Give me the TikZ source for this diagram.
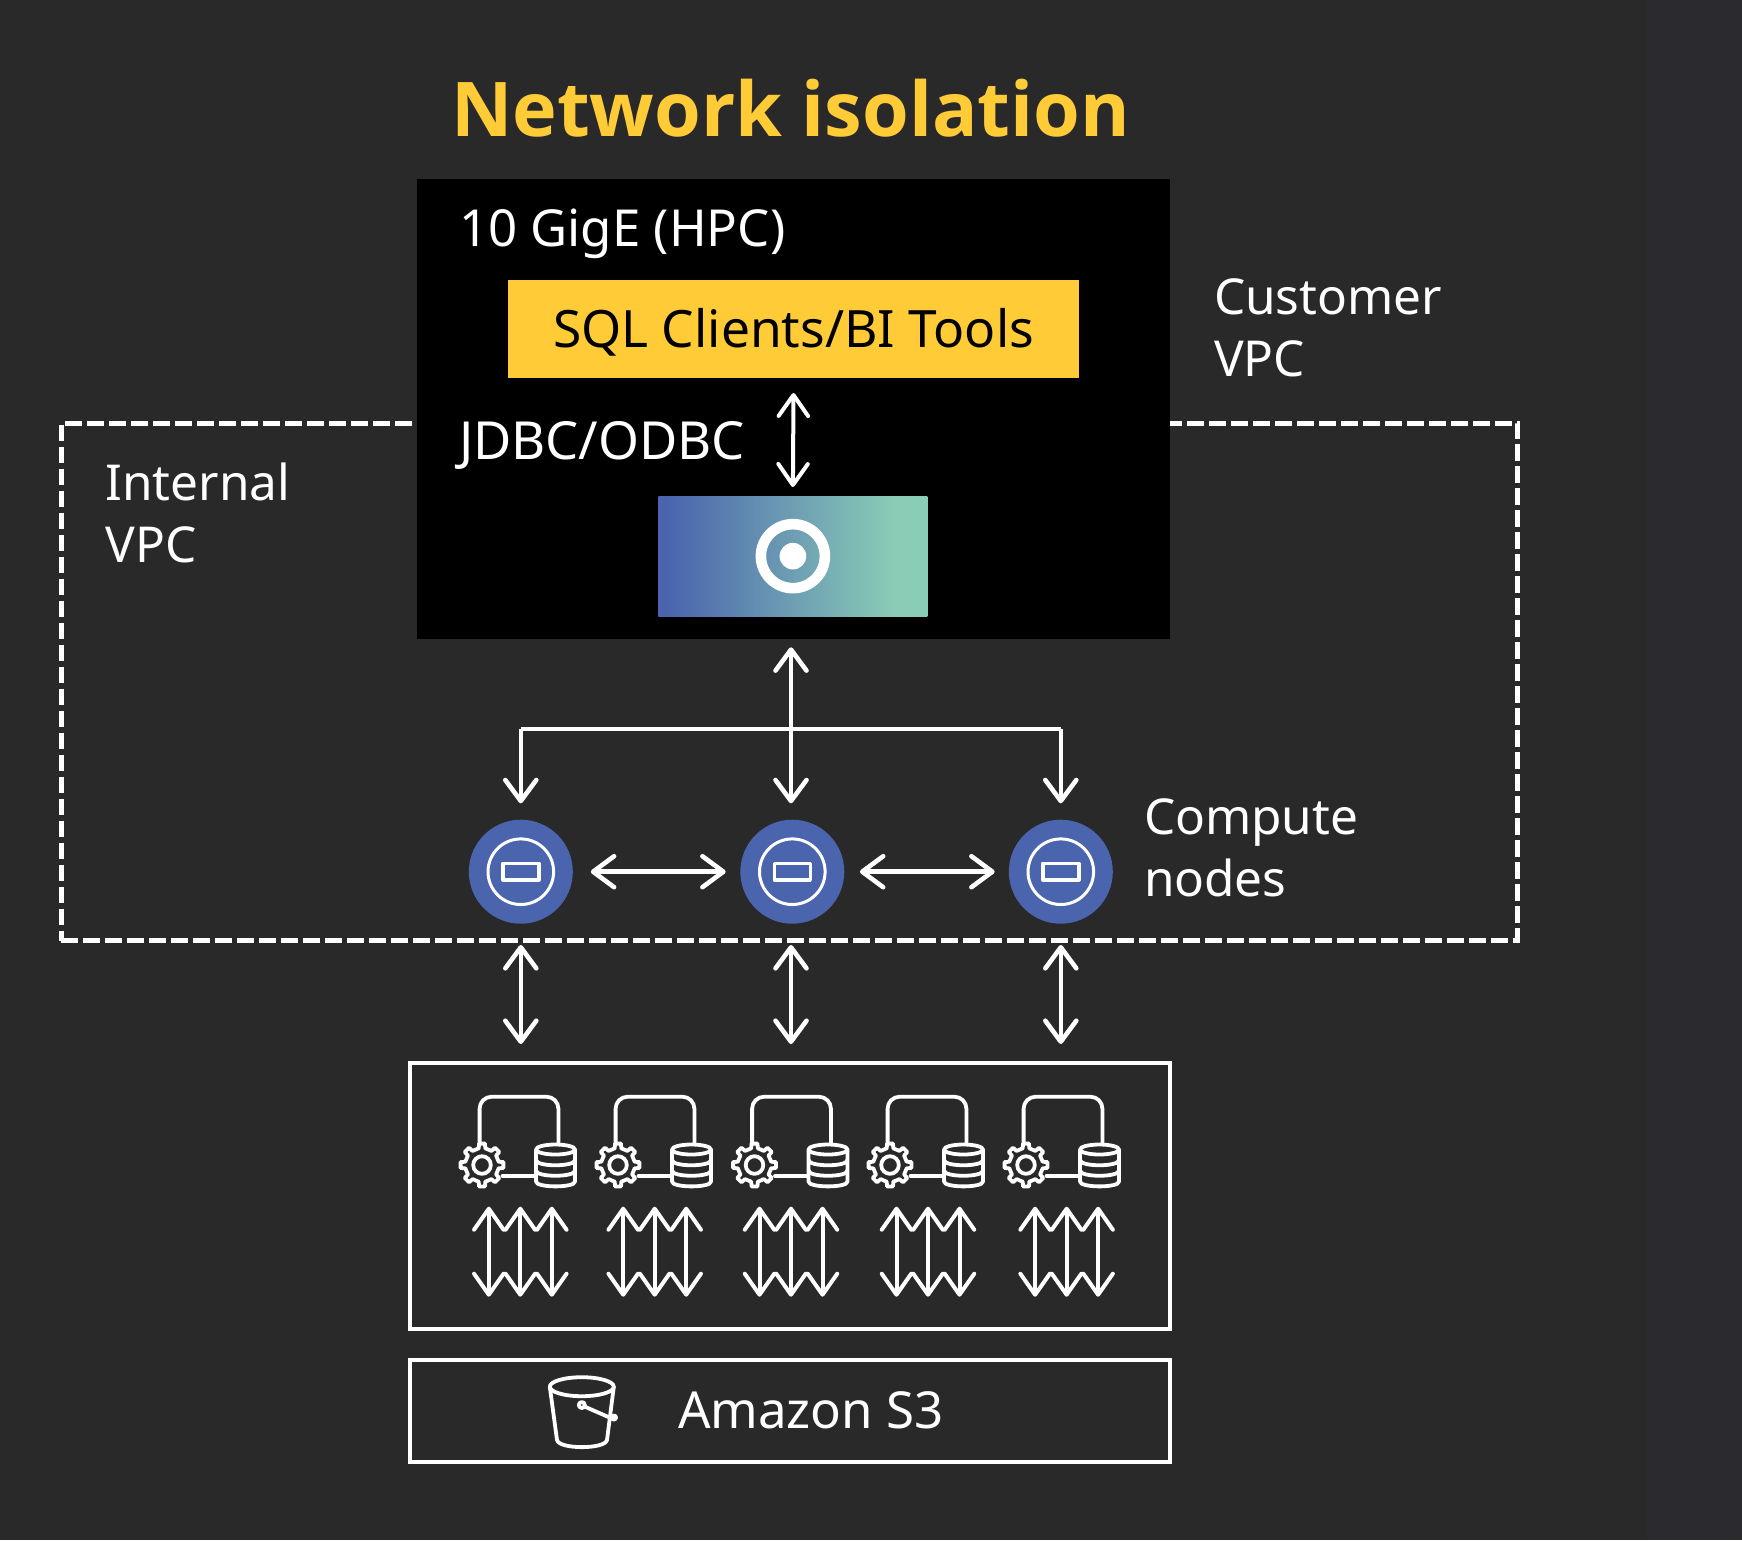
\documentclass[tikz,border=0pt]{standalone}
\usepackage{fontspec}
\setmainfont{Noto Sans}
\newfontfamily\headfont{Open Sans}
\usetikzlibrary{arrows.meta}
\definecolor{bgc}{HTML}{292929}
\definecolor{bandc}{HTML}{2B2A2E}
\definecolor{amberc}{HTML}{FFCC38}
\definecolor{bluec}{HTML}{4A64AE}
\definecolor{mintc}{HTML}{8ACDB6}
\pgfdeclarehorizontalshading{leaderfill}{100bp}{color(0bp)=(bluec);color(26.5bp)=(bluec);color(69bp)=(mintc);color(100bp)=(mintc)}
\newcommand{\fs}[1]{\fontsize{#1}{62}\selectfont}
\tikzset{
  every node/.style={inner sep=0pt,outer sep=0pt},
  lbl/.style={text=white,anchor=base west,font=\fs{49.5},align=left},
  frame/.style={draw=white,line width=4pt},
  wire/.style={draw=white,line width=4.6pt,line join=round,line cap=round},
  icon/.style={draw=white,line width=3.8pt,line join=round,line cap=round},
  barb/.tip={Straight Barb[length=21pt,width=31pt,line width=4.6pt,round]},
  finebarb/.tip={Straight Barb[length=21pt,width=29.5pt,line width=4pt,round]},
  bi/.style={wire,{barb}-{barb}},
  finebi/.style={icon,line width=4pt,{finebarb}-{finebarb}},
  compute/.style={circle,fill=bluec,minimum size=104pt,outer sep=18pt},
  gearpair/.pic={
    \draw[icon] (-11:17) \foreach \a in {0,45,...,315}{
      -- (\a-11:17) -- (\a-8:21.6) -- (\a+8:21.6) -- (\a+11:17)} -- cycle;
    \draw[icon] (0,0) circle[radius=8.8];
    \draw[icon] (-2.4,-22) [rounded corners=12pt] -- (-2.4,-68.3) -- (76.4,-68.3) -- (76.4,-22);
    \draw[icon] (20.5,11) -- (53.3,11);
    \draw[icon] (73.5,-15.5) ellipse[x radius=19.5,y radius=5];
    \draw[icon] (54,-15.5) -- (54,16.5) .. controls (54,23) and (93,23) .. (93,16.5) -- (93,-15.5);
    \draw[icon] (54,-5) .. controls (54,2) and (93,2) .. (93,-5);
    \draw[icon] (54,5.5) .. controls (54,12.5) and (93,12.5) .. (93,5.5);
  },
  triple/.pic={
    \foreach \dx in {-31.5,0,31.5}
      \draw[finebi] (\dx,-45) -- (\dx,45);
  }
}
\begin{document}
\begin{tikzpicture}[x=1pt,y=-1pt]
\useasboundingbox (0,0) rectangle (1742,1540);
\fill[bgc] (0,0) rectangle (1742,1540);
\fill[bandc] (1647,0) rectangle (1742,1540);
% internal VPC
\node[draw=white,line width=5pt,dash pattern=on 16.8pt off 5.2pt,minimum width=1456.5pt,minimum height=517.5pt,anchor=north west] (internal) at (61,423) {};
% customer VPC
\node[fill=black,minimum width=753pt,minimum height=460pt,anchor=north west] (customer) at (417,179) {};
\node[lbl,font=\headfont\bfseries\fontsize{75.5}{76}\selectfont,text=amberc] (title) at (451,136) {Network isolation};
\node[lbl,font=\fs{51}] (gige) at (459,246) {10 GigE (HPC)};
\node[fill=amberc,minimum width=571pt,minimum height=98pt,anchor=north west] (sql) at (508,280) {};
\node[lbl,text=black,font=\fs{51.5}] (sqltext) at (553,347) {SQL Clients/BI Tools};
\node[lbl,font=\fs{52.5}] (jdbc) at (459,459.5) {JDBC/ODBC};
\node[lbl] (custlab) at (1214,376) {Customer\\VPC};
\node[lbl] (intlab) at (105.5,562) {Internal\\VPC};
\node[lbl] (complab) at (1144,896) {Compute\\nodes};
% leader
\node[shading=leaderfill,minimum width=269pt,minimum height=119.7pt,anchor=north west] (leader) at (658.4,496.3) {};
\draw[white,line width=10.6pt] (leader.center) circle[radius=32];
\fill[white] (leader.center) circle[radius=13.3];
\draw[finebi] ([yshift=-15pt]sql.south) -- ([yshift=9.3pt]leader.north);
% compute nodes
\node[compute] (cn1) at (520.8,871.7) {};
\node[compute] (cn2) at (792.3,871.7) {};
\node[compute] (cn3) at (1060.8,871.7) {};
\foreach \n in {cn1,cn2,cn3}{
  \draw[white,line width=3pt] (\n.center) circle[radius=32.8];
  \draw[white,line width=3.6pt,line join=round] ([shift={(-18,-8.2)}]\n.center) rectangle ([shift={(18,8.2)}]\n.center);
}
\coordinate (hubtop) at (791,647.3);
\coordinate (branch) at (791,729);
\draw[bi] (hubtop) -- ([xshift=-1.3pt,yshift=-1.6pt]cn2.north);
\draw[wire,line cap=butt,-{barb}] (branch -| cn1) -- ([yshift=-1.6pt]cn1.north);
\draw[wire,line cap=butt,-{barb}] (branch -| cn3) -- ([yshift=-1.6pt]cn3.north);
\draw[wire,line cap=butt] (branch -| cn1) -- (branch -| cn3);
\draw[bi] (cn1.east) -- ([xshift=3.4pt]cn2.west);
\draw[bi] ([xshift=-2.4pt]cn2.east) -- ([xshift=3.9pt]cn3.west);
% storage box
\node[frame,minimum width=760.5pt,minimum height=266pt,anchor=north west] (store) at (409.5,1062.7) {};
\node[frame,minimum width=760.5pt,minimum height=101.7pt,anchor=north west] (s3) at (409.5,1360) {};
\coordinate (storetop) at (791,1044);
\draw[bi] ([yshift=-3.3pt]cn1.south) -- (cn1.center |- storetop);
\draw[bi] ([xshift=-1.3pt,yshift=-3.3pt]cn2.south) -- (storetop);
\draw[bi] ([yshift=-3.3pt]cn3.south) -- (cn3.center |- storetop);
\foreach \gx in {482,618,754.5,890,1026}
  \pic at (\gx,1165) {gearpair};
\foreach \tx in {520.3,654.7,791,928,1066.6}
  \pic at (\tx,1251.7) {triple};
% bucket
\node[lbl,font=\fs{51}] (s3text) at (678,1428) {Amazon S3};
\draw[icon] (581.8,1386.7) ellipse[x radius=32,y radius=9.5];
\draw[icon] (549.8,1386.7) -- (557,1440) .. controls (559,1449.5) and (605,1449.5) .. (607,1440) -- (613.8,1386.7);
\draw[icon] (581.8,1405) circle[radius=3];
\draw[icon] (584.5,1406.5) -- (613,1419);
\draw[icon] (614,1417.5) circle[radius=2];
\end{tikzpicture}
\end{document}
